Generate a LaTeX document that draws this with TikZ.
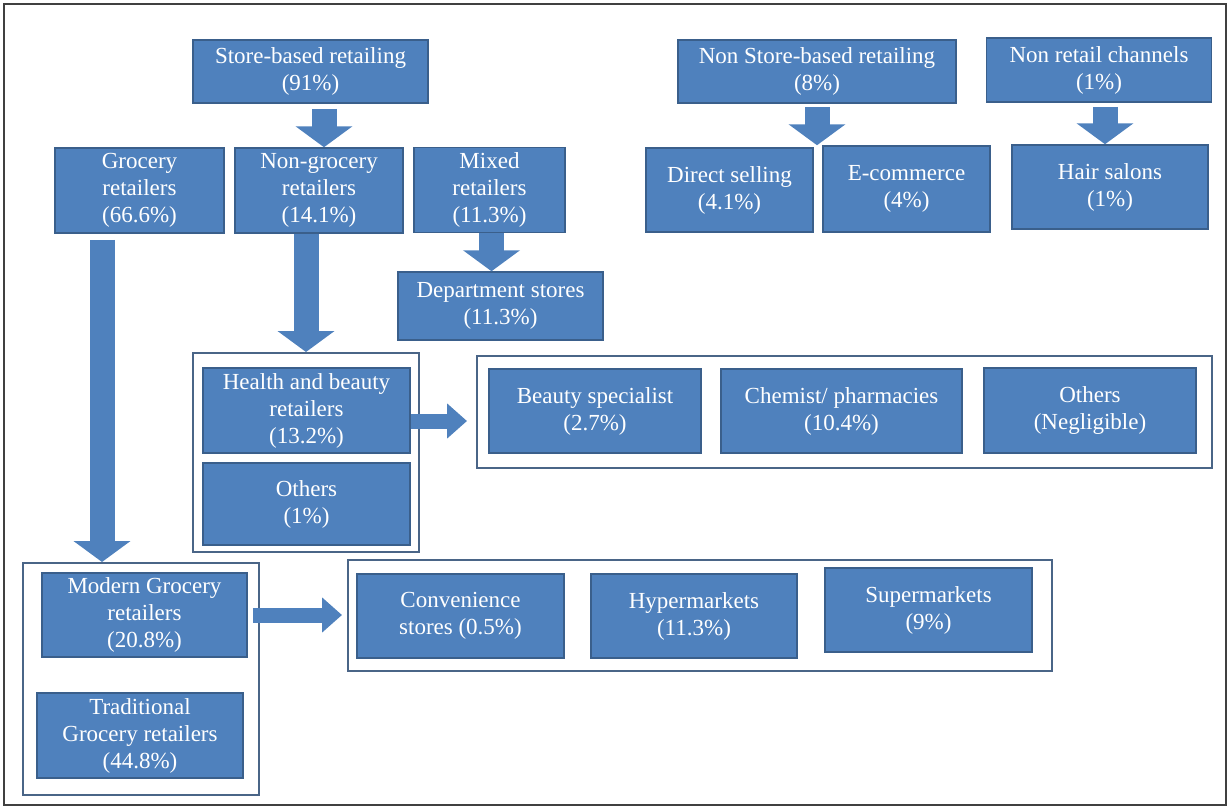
\documentclass[tikz,border=0pt]{standalone}
\usepackage{fontspec}
\setmainfont{Liberation Serif}
\usetikzlibrary{shapes.geometric, arrows.meta}
\definecolor{boxblue}{HTML}{4F81BD}
\definecolor{boxedge}{HTML}{3A5F8B}
\definecolor{frameedge}{HTML}{4A6587}
\tikzstyle{box} = [rectangle, draw=boxedge, line width=1.5pt, fill=boxblue, text=white, align=center, inner sep=0pt, font=\fontsize{23}{27}\selectfont]
\tikzstyle{group} = [rectangle, draw=frameedge, line width=2pt, fill=white, inner sep=0pt]
\tikzstyle{arrow} = [draw=boxblue, line width=25pt, -{Triangle[width=56pt,length=21pt]}]
\tikzstyle{sidearrow} = [draw=boxblue, line width=15pt, -{Triangle[width=34pt,length=20pt]}]

\begin{document}
\begin{tikzpicture}[x=1pt, y=-1pt]
            \useasboundingbox (0,0) rectangle (1232,809);
            \draw [line width=2pt, draw=black!75] (4,4) rectangle (1226,805);

            \node [group, minimum width=226pt, minimum height=199pt] at (306,452.5) (hgrp) {};
            \node [group, minimum width=735pt, minimum height=112pt] at (844.5,412) (bgrp) {};
            \node [group, minimum width=236pt, minimum height=232pt] at (141,679) (mgrp) {};
            \node [group, minimum width=704pt, minimum height=111pt] at (700,615.5) (cgrp) {};

            \node [box, minimum width=235pt, minimum height=63pt] at (310.5,71.5) (store) {Store-based retailing\\(91\%)};
            \node [box, minimum width=278pt, minimum height=63pt] at (817,71.5) (nonstore) {Non Store-based retailing\\(8\%)};
            \node [box, minimum width=225pt, minimum height=64pt] at (1099,70) (nonretail) {Non retail channels\\(1\%)};

            \node [box, minimum width=169pt, minimum height=85pt] at (139.5,190.5) (groc) {Grocery\\retailers\\(66.6\%)};
            \node [box, minimum width=168pt, minimum height=85pt] at (319,190.5) (nongroc) {Non-grocery\\retailers\\(14.1\%)};
            \node [box, minimum width=151pt, minimum height=85pt] at (489.5,190) (mixed) {Mixed\\retailers\\(11.3\%)};
            \node [box, minimum width=205pt, minimum height=68pt] at (500.5,306) (dept) {Department stores\\(11.3\%)};

            \node [box, minimum width=167pt, minimum height=84pt] at (729.5,190) (direct) {Direct selling\\(4.1\%)};
            \node [box, minimum width=167pt, minimum height=86pt] at (906.5,189) (ecom) {E-commerce\\(4\%)};
            \node [box, minimum width=196pt, minimum height=84pt] at (1110,187) (hair) {Hair salons\\(1\%)};

            \node [box, minimum width=207pt, minimum height=85pt] at (306.5,410.5) (health) {Health and beauty\\retailers\\(13.2\%)};
            \node [box, minimum width=207pt, minimum height=82pt] at (306.5,504) (others) {Others\\(1\%)};

            \node [box, minimum width=212pt, minimum height=84pt] at (595,411) (beauty) {Beauty specialist\\(2.7\%)};
            \node [box, minimum width=241pt, minimum height=84pt] at (841.5,411) (chemist) {Chemist/ pharmacies\\(10.4\%)};
            \node [box, minimum width=212pt, minimum height=85pt] at (1090,410.5) (negl) {Others\\(Negligible)};

            \node [box, minimum width=205pt, minimum height=84pt] at (144.5,615) (modern) {Modern Grocery\\retailers\\(20.8\%)};
            \node [box, minimum width=206pt, minimum height=85pt] at (140,735.5) (trad) {Traditional\\Grocery retailers\\(44.8\%)};

            \node [box, minimum width=207pt, minimum height=84pt] at (460.5,616) (conv) {Convenience\\stores (0.5\%)};
            \node [box, minimum width=206pt, minimum height=84pt] at (694,616) (hyper) {Hypermarkets\\(11.3\%)};
            \node [box, minimum width=207pt, minimum height=84pt] at (928.5,610) (super) {Supermarkets\\(9\%)};

            \draw [arrow] ([xshift=5pt,yshift=-5pt]nongroc.north |- store.south) -- ([xshift=5pt]nongroc.north);
            \draw [arrow] ([yshift=-3pt]nonstore.south) -- (nonstore.south |- ecom.north);
            \draw [arrow] ([xshift=-5pt,yshift=-4pt]hair.north |- nonretail.south) -- ([xshift=-5pt]hair.north);
            \draw [arrow] ([xshift=2pt]mixed.south) -- ([xshift=2pt]mixed.south |- dept.north);
            \draw [arrow] ([xshift=-37.5pt,yshift=-6pt]groc.south) -- ([xshift=-37.5pt]groc.south |- mgrp.north);
            \draw [arrow] (nongroc.south -| hgrp.north) -- (hgrp.north);
            \draw [sidearrow, shorten >=9pt] ([yshift=-10.5pt]health.east) -- ([yshift=-10.5pt]health.east -| bgrp.west);
            \draw [sidearrow, shorten <=5pt, shorten >=5pt] (modern.east) -- (modern.east -| cgrp.west);
            \end{tikzpicture}
\end{document}
